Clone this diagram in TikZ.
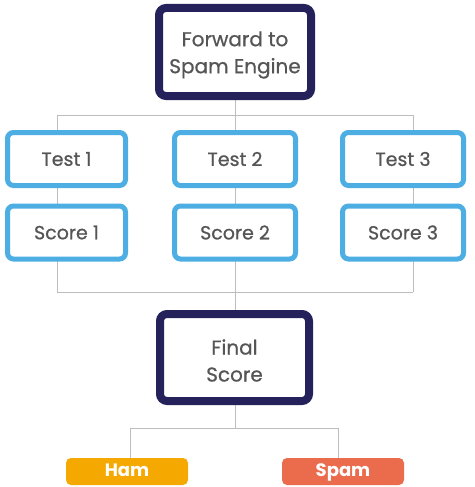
\documentclass[tikz,border=0pt]{standalone}
\usepackage{fontspec}
\setmainfont{Poppins}
\newfontfamily\medfont[FakeBold=0.7]{Poppins}
\definecolor{navy}{HTML}{25215A}
\definecolor{skyblue}{HTML}{4DAEE3}
\definecolor{txtgray}{HTML}{555555}
\definecolor{linegray}{HTML}{BDBDBD}
\definecolor{hamorange}{HTML}{F5A800}
\definecolor{spamred}{HTML}{EB6B4D}
\begin{document}
\begin{tikzpicture}[x=1pt, y=-1pt,
  mainbox/.style={draw=navy, line width=8pt, fill=white, rounded corners=7pt, inner sep=0pt},
  maintext/.style={align=center, text=txtgray, font=\medfont\fontsize{20}{27}\selectfont, yshift=-3pt},
  testbox/.style={draw=skyblue, line width=5pt, fill=white, rounded corners=6pt, minimum width=118pt, minimum height=53pt, text=txtgray, font=\medfont\fontsize{19}{22}\selectfont, inner sep=0pt},
  verdict/.style={rounded corners=5pt, minimum width=122pt, minimum height=27pt, text height=13pt, text depth=4pt, text=white, font=\bfseries\fontsize{18}{20}\selectfont, inner sep=0pt},
  link/.style={draw=linegray, line width=1pt}]
\useasboundingbox (0,0) rectangle (474,487);
% connectors go first, boxes hide them
\coordinate (bus1) at (57, 115);
\coordinate (bus3) at (413, 115);
\coordinate (end1) at (57, 292);
\coordinate (end3) at (413, 292);
\coordinate (split) at (235, 428);
\coordinate (hamtop) at (130, 428);
\coordinate (spamtop) at (338, 428);
\draw [link] (bus1) -- (bus3) (bus1) -- (end1) (bus3) -- (end3) (end1) -- (end3);
\draw [link] (235, 100) -- (235, 310);
\draw [link] (235, 405) -- (split) (hamtop) -- (spamtop) (hamtop) -- (130, 458) (spamtop) -- (338, 458);
% boxes
\node (engine) at (235, 52) [mainbox, minimum width=152pt, minimum height=88pt,
  label={[maintext]center:Forward to\\Spam Engine}] {};
\node (test1) at (66.5, 159) [testbox] {Test 1};
\node (test2) at (235, 159) [testbox, minimum width=121pt] {Test 2};
\node (test3) at (403, 159) [testbox, minimum width=121pt] {Test 3};
\node (score1) at (66.5, 232.5) [testbox] {Score 1};
\node (score2) at (235, 232.5) [testbox, minimum width=121pt] {Score 2};
\node (score3) at (403, 232.5) [testbox, minimum width=121pt] {Score 3};
\node (final) at (234.5, 357.5) [mainbox, minimum width=149pt, minimum height=87pt,
  label={[maintext]center:Final\\Score}] {};
\node (ham) at (127, 471.5) [verdict, fill=hamorange] {Ham};
\node (spam) at (343, 471.5) [verdict, fill=spamred] {Spam};
\end{tikzpicture}
\end{document}
